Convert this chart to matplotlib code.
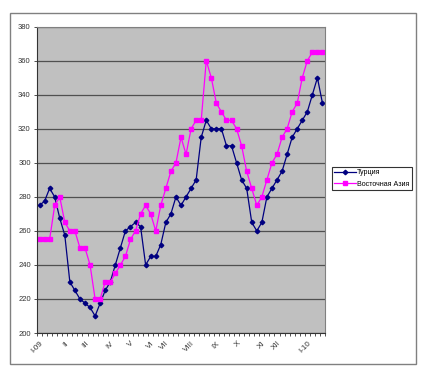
import matplotlib
matplotlib.use("Agg")
import matplotlib.pyplot as plt
from matplotlib.patches import Rectangle

# --- Data (weekly index values) ---
turkey = [275, 277.5, 285, 280, 267.5, 257.5, 230, 225, 220, 217.5,
          215, 210, 217.5, 225, 230, 240, 250, 260, 262.5, 265,
          262.5, 240, 245, 245, 252, 265, 270, 280, 275, 280,
          285, 290, 315, 325, 320, 320, 320, 310, 310, 300,
          290, 285, 265, 260, 265, 280, 285, 290, 295, 305,
          315, 320, 325, 330, 340, 350, 335]
east_asia = [255, 255, 255, 275, 280, 265, 260, 260, 250, 250,
             240, 220, 220, 230, 230, 235, 240, 245, 255, 260,
             270, 275, 270, 260, 275, 285, 295, 300, 315, 305,
             320, 325, 325, 360, 350, 335, 330, 325, 325, 320,
             310, 295, 285, 275, 280, 290, 300, 305, 315, 320,
             330, 335, 350, 360, 365, 365, 365]
month_pos = [0, 5, 9, 14, 18, 22, 25, 30, 35, 39, 44, 47, 53]
month_labels = ["I-09", "II", "III", "IV", "V", "VI", "VII", "VIII",
                "IX", "X", "XI", "XII", "I-10"]

plt.rcParams["font.family"] = ["Liberation Sans", "DejaVu Sans"]
plt.rcParams["font.size"] = 5.5

W, H = 423, 377
fig = plt.figure(figsize=(W / 100, H / 100), dpi=100)

# outer chart frame
fig.patches.append(Rectangle((10 / W, 1 - 364 / H), 406 / W, 351 / H,
                             transform=fig.transFigure, fill=False,
                             edgecolor="#808080", linewidth=1))

ax = fig.add_axes([37 / W, 1 - 333 / H, 288 / W, 306.3 / H])
ax.set_facecolor("#C0C0C0")

x = list(range(len(turkey)))
ax.plot(x, turkey, color="#000080", linewidth=0.9, marker="D",
        markersize=2.3, label="Турция")
ax.plot(x, east_asia, color="#FF00FF", linewidth=0.9, marker="s",
        markersize=2.4, label="Восточная Азия")

ax.set_ylim(200, 380)
ax.set_yticks(range(200, 381, 20))
ax.set_xlim(-0.5, len(turkey) - 0.5)
ax.set_xticks(month_pos)
ax.set_xticklabels(month_labels, rotation=45, ha="right", va="top",
                   rotation_mode="anchor", fontsize=5.8)
ax.set_xticks([i + 0.5 for i in range(-1, len(turkey))], minor=True)
ax.tick_params(axis="x", which="major", length=0, pad=5, colors="#333333")
ax.tick_params(axis="x", which="minor", length=2.5, width=0.6,
               color="#333333", direction="out")
ax.tick_params(axis="y", length=2.5, width=0.6, pad=2, colors="#333333")

ax.grid(axis="y", color="#505050", linewidth=0.9)
ax.set_axisbelow(True)
for side in ["top", "right"]:
    ax.spines[side].set_color("#808080")
for side in ["left", "bottom"]:
    ax.spines[side].set_color("#333333")
for s in ax.spines.values():
    s.set_linewidth(0.8)

leg = ax.legend(loc="upper left", bbox_to_anchor=(331.5 / W, 1 - 166.5 / H),
                bbox_transform=fig.transFigure, frameon=True, fancybox=False,
                edgecolor="black", borderpad=0.4, handlelength=3.0,
                handletextpad=0.15, labelspacing=0.6, borderaxespad=0,
                fontsize=5.1)
leg.get_frame().set_linewidth(0.8)

fig.savefig("out.png", dpi=100, facecolor="white")
